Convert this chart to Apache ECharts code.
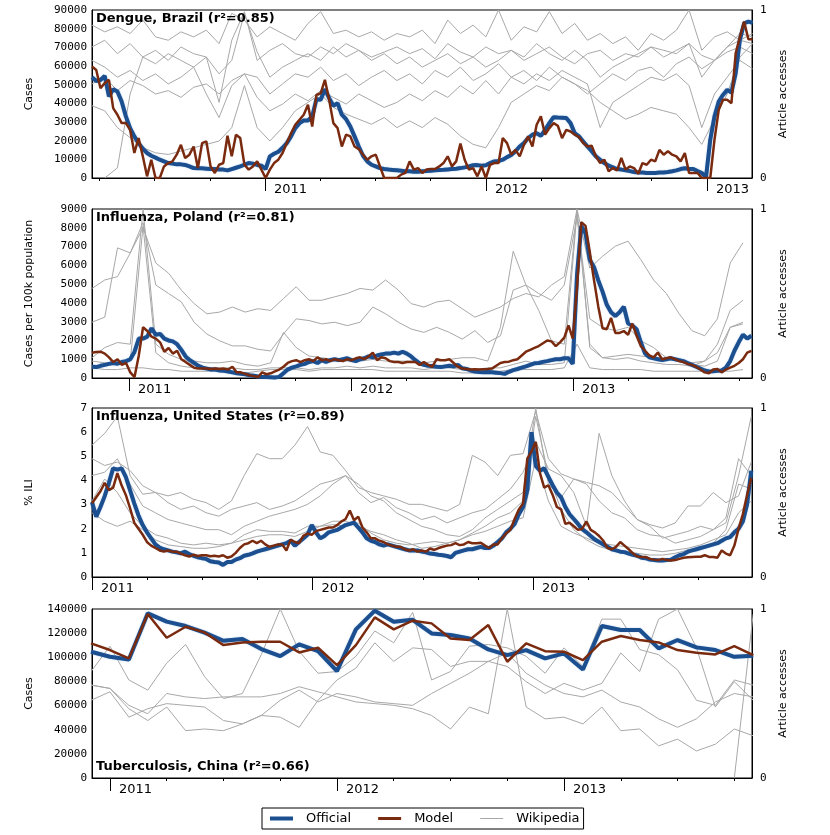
<!DOCTYPE html>
<html><head><meta charset="utf-8">
<script src="https://cdn.jsdelivr.net/npm/echarts@6/dist/echarts.min.js"></script>
<style>html,body{margin:0;padding:0;background:#fff}#c{width:830px;height:835px}</style>
</head><body><div id="c"></div>
<script>
// ---------- DATA ----------
const WEEK = 7 / 365.25, MONTH = 1 / 12;
const titles = ['Dengue, Brazil (r²=0.85)', 'Influenza, Poland (r²=0.81)', 'Influenza, United States (r²=0.89)', 'Tuberculosis, China (r²=0.66)'];
const yNames = ['Cases', 'Cases per 100k population', '% ILI', 'Cases'];
const yMax = [90000, 9000, 7, 140000];
const yInterval = [10000, 1000, 1, 20000];
const xMin = [2010.217, 2010.833, 2011.0, 2010.921];
const xMax = [2013.204, 2013.806, 2013.993, 2013.828];
const yearTicks = [2011, 2012, 2013];
const seriesStart = [2010.217, 2010.833, 2011.0, 2010.9167];
const officialStep = [WEEK, WEEK, WEEK, MONTH];
const wikiStep = [3 * WEEK, 3 * WEEK, 3 * WEEK, MONTH];

// Dengue, Brazil (weekly)
const p1Official = [54000,52000,52500,54700,43700,47600,46300,41000,33000,26700,
22300,18700,15700,13400,11900,10900,9800,8900,8000,7700,
7300,7300,7000,6200,5300,5200,5200,5000,4800,4800,
4600,4500,4100,4800,5500,6200,7100,8000,7700,7000,
6600,4800,11600,13000,14100,16200,18700,22300,26700,29400,
30800,30800,33000,42200,41900,47600,42800,38700,40100,33900,
31500,27600,22300,16900,11900,8900,7100,6200,5300,4800,
4500,4300,4100,3900,3600,3600,3400,3400,3600,3700,
3900,4100,4300,4400,4600,4800,5000,5300,5700,6200,
6800,6900,6600,6800,8000,8900,9100,9800,11200,12300,
14300,16900,18700,21400,23200,24000,22600,25800,29400,32600,
32400,32300,32100,29400,24000,22300,19600,16900,14300,11600,
9800,8000,6600,5700,4800,4500,4100,3700,3200,2900,
2900,2700,2700,2700,2900,3000,3200,3600,4100,4800,
5200,4800,4800,3700,2700,500,20500,33000,41000,44500,
47200,45800,56100,74000,82900,83800,83200];
const p1Model = [59700,57900,48100,50800,52600,37400,33900,29400,29400,25800,
13400,21400,11600,900,9800,0,0,6200,8000,8900,
12500,17800,10700,12500,16900,5300,18700,19600,6200,2700,
7100,8000,22600,11600,23200,21400,7100,4500,6200,8900,
4500,0,4500,8000,9800,13400,18700,24000,28500,31200,
33900,39200,27600,44500,45400,52600,41900,29400,26700,16900,
23200,22300,16900,15500,12500,9800,11600,12500,6200,0,
0,0,0,1800,2700,8900,4500,5300,2700,4500,
4800,4800,6200,8000,11600,6200,8900,18400,9800,4500,
5300,900,6200,0,7100,8000,8000,21400,18700,12500,
15100,11600,17800,22300,16900,28500,33000,23200,26700,29400,
28000,21400,25800,24900,23200,21900,18700,16900,17300,11600,
8000,9800,3600,5300,4100,10700,4500,6200,5300,2300,
8000,7100,9800,8900,15100,12500,14300,12500,11600,8900,
13400,2700,2700,2700,0,0,0,20500,36500,41900,
41900,40100,66800,75700,83800,74300,74300];
const p1Wiki = [
[0.91,0.87,0.9,0.86,0.94,0.84,0.82,0.87,0.84,0.88,0.8,0.98,0.94,0.84,0.9,0.86,0.82,0.92,0.99,0.86,0.88,0.84,0.87,0.82,0.86,0.84,0.88,0.8,0.94,0.86,0.91,0.84,1.0,0.82,0.9,0.87,0.99,0.86,0.92,0.82,0.86,0.8,0.84,0.76,0.86,0.82,0.88,1.0,0.76,0.84,0.87,0.82,0.86],
[0.78,0.82,0.74,0.8,0.72,0.76,0.7,0.78,0.74,0.72,0.45,0.82,0.99,0.7,0.76,0.8,0.74,0.72,0.78,0.74,0.8,0.76,0.72,0.75,0.78,0.74,0.77,0.71,0.8,0.75,0.72,0.78,0.74,0.76,0.7,0.74,0.78,0.72,0.68,0.74,0.76,0.7,0.74,0.72,0.78,0.76,0.74,0.8,0.73,0.7,0.78,0.82,0.8],
[0.7,0.66,0.6,0.64,0.58,0.62,0.56,0.6,0.66,0.5,0.36,0.55,0.62,0.6,0.5,0.56,0.62,0.6,0.66,0.58,0.62,0.55,0.6,0.64,0.58,0.62,0.56,0.64,0.6,0.66,0.58,0.62,0.68,0.6,0.64,0.58,0.66,0.6,0.56,0.5,0.56,0.62,0.58,0.64,0.66,0.6,0.68,0.72,0.65,0.7,0.75,0.78,0.74],
[0.56,0.6,0.52,0.58,0.55,0.5,0.52,0.48,0.54,0.56,0.5,0.58,0.62,0.48,0.4,0.44,0.5,0.46,0.52,0.48,0.44,0.5,0.46,0.42,0.45,0.5,0.46,0.52,0.48,0.55,0.5,0.58,0.5,0.6,0.56,0.62,0.58,0.64,0.6,0.56,0.3,0.45,0.5,0.55,0.6,0.58,0.62,0.55,0.3,0.5,0.6,0.7,0.65],
[0.43,0.4,0.3,0.24,0.18,0.15,0.14,0.16,0.18,0.2,0.22,0.3,0.55,0.3,0.22,0.3,0.4,0.45,0.5,0.42,0.38,0.35,0.32,0.36,0.3,0.34,0.3,0.36,0.32,0.25,0.2,0.18,0.3,0.45,0.5,0.55,0.52,0.6,0.56,0.52,0.45,0.4,0.35,0.38,0.42,0.4,0.38,0.3,0.2,0.35,0.5,0.72,0.8],
[null,0.0,0.06,0.5,0.72,0.68,0.74,0.7,0.66,0.72,0.62,0.7,0.98,0.75,0.6,0.66,0.7,0.74,0.7,0.78,0.72,0.76,0.7,0.74,0.68,0.72,0.66,0.7,0.74,0.68,0.72,0.66,0.7,0.76,0.72,0.8,0.74,0.7,0.76,0.7,0.6,0.66,0.7,0.74,0.78,0.72,0.76,0.8,0.6,0.7,0.78,0.86,0.84]
];

// Influenza, Poland (weekly)
const p2Official = [600,580,650,700,750,800,760,850,900,1000,
1400,2100,2100,2200,2650,2300,2350,2100,2000,1950,
1800,1500,1150,950,800,650,550,500,450,450,
400,380,350,300,250,220,200,150,120,80,
60,50,40,30,60,250,450,550,620,700,
750,850,900,800,950,850,950,1000,950,1000,
1050,950,900,1000,1050,1150,1100,1200,1250,1300,
1300,1350,1300,1400,1300,1150,950,780,700,650,
640,600,580,620,650,620,700,520,480,400,
350,320,300,320,300,280,260,220,330,420,
480,550,620,700,780,800,860,900,950,1000,
1000,1050,1050,750,5500,8100,7700,6300,5900,5200,
4600,3900,3500,3300,3500,3800,2900,2800,2600,1900,
1300,1100,1050,1000,950,1000,1050,1000,950,900,
800,700,600,500,400,350,360,380,400,550,
900,1450,1900,2300,2100,2250];
const p2Model = [1350,1380,1400,1300,1100,850,1000,700,800,300,
50,1200,2700,2500,2200,2100,1900,1400,1600,1300,
1450,1000,850,700,550,500,500,500,480,500,
480,500,450,600,300,300,220,150,100,50,
300,200,250,350,450,600,800,900,950,850,
950,1000,900,1100,950,1000,900,1000,950,900,
1000,950,1050,1100,1000,1150,1350,950,1100,1050,
900,850,850,800,850,850,850,700,850,700,
600,1000,950,950,1000,800,600,500,480,450,
460,450,470,480,500,650,800,850,870,950,
1000,1200,1400,1500,1600,1700,1850,2000,1950,1700,
1900,2150,2800,2100,4800,8300,8100,6700,5200,3800,
2650,2600,3200,2400,2400,2500,2300,2900,2250,1700,
1450,1200,1100,1350,1000,1050,1100,1000,900,850,
750,700,600,450,300,250,450,480,300,450,
550,650,800,1000,1350,1450];
const p2Wiki = [
[0.53,0.58,0.6,0.74,0.89,0.68,0.62,0.52,0.44,0.38,0.39,0.42,0.39,0.41,0.4,0.47,0.54,0.46,0.46,0.48,0.5,0.53,0.52,0.58,0.52,0.44,0.42,0.45,0.46,0.41,0.36,0.39,0.42,0.47,0.5,0.48,0.55,0.6,1.0,0.65,0.72,0.78,0.81,0.7,0.58,0.5,0.38,0.28,0.25,0.35,0.68,0.8],
[0.33,0.36,0.77,0.74,0.92,0.55,0.5,0.45,0.33,0.26,0.22,0.19,0.19,0.17,0.16,0.26,0.35,0.34,0.32,0.33,0.31,0.33,0.42,0.38,0.33,0.29,0.27,0.3,0.27,0.23,0.28,0.21,0.25,0.52,0.55,0.5,0.46,0.55,0.95,0.35,0.3,0.28,0.3,0.22,0.18,0.12,0.1,0.08,0.07,0.1,0.3,0.33],
[0.12,0.18,0.21,0.2,1.0,0.2,0.14,0.11,0.1,0.09,0.09,0.1,0.08,0.07,0.09,0.27,0.18,0.13,0.12,0.11,0.1,0.1,0.11,0.1,0.1,0.1,0.09,0.1,0.11,0.12,0.12,0.1,0.3,0.75,0.55,0.4,0.22,0.2,1.0,0.18,0.12,0.11,0.12,0.1,0.09,0.08,0.08,0.07,0.1,0.2,0.4,0.46],
[0.1,0.09,0.08,0.1,0.9,0.15,0.09,0.07,0.06,0.06,0.06,0.06,0.05,0.05,0.06,0.06,0.06,0.05,0.06,0.06,0.07,0.06,0.07,0.06,0.06,0.06,0.05,0.06,0.06,0.05,0.05,0.06,0.06,0.08,0.1,0.08,0.08,0.09,0.98,0.2,0.12,0.13,0.14,0.13,0.12,0.11,0.1,0.09,0.1,0.15,0.3,0.32],
[0.06,0.05,0.05,0.06,0.06,0.05,0.05,0.04,0.04,0.04,0.04,0.04,0.03,0.04,0.05,0.05,0.05,0.04,0.05,0.05,0.05,0.05,0.05,0.04,0.04,0.04,0.04,0.04,0.04,0.03,0.03,0.04,0.04,0.05,0.05,0.05,0.05,0.06,0.2,0.06,0.05,0.05,0.05,0.05,0.04,0.04,0.04,0.04,0.04,0.04,0.04,0.05]
];

// Influenza, United States (weekly % ILI)
const p3Official = [3.1,2.5,2.9,3.35,3.9,4.5,4.45,4.5,4.15,3.6,
3.05,2.55,2.15,1.85,1.6,1.35,1.22,1.15,1.1,1.05,
1.02,0.98,1.05,0.95,0.88,0.82,0.78,0.75,0.65,0.62,
0.6,0.5,0.62,0.62,0.72,0.78,0.88,0.92,0.98,1.05,
1.1,1.15,1.2,1.25,1.3,1.35,1.4,1.5,1.3,1.45,
1.6,1.75,2.15,1.85,1.6,1.7,1.85,1.9,1.95,2.05,
2.15,2.2,2.25,2.05,1.85,1.6,1.5,1.45,1.35,1.3,
1.35,1.3,1.25,1.2,1.15,1.1,1.1,1.1,1.05,1.02,
0.97,0.95,0.92,0.9,0.87,0.82,1.0,1.05,1.1,1.15,
1.15,1.2,1.25,1.2,1.2,1.3,1.45,1.6,1.85,2.0,
2.2,2.6,2.9,3.6,6.0,4.6,4.4,4.5,4.15,3.8,
3.5,3.3,2.9,2.6,2.4,2.2,1.98,1.85,1.7,1.55,
1.45,1.35,1.25,1.15,1.1,1.05,1.03,0.97,0.92,0.88,
0.8,0.78,0.72,0.7,0.68,0.68,0.7,0.72,0.82,0.9,
0.95,1.05,1.1,1.15,1.2,1.25,1.3,1.35,1.4,1.5,
1.6,1.65,1.85,2.0,2.3,3.0,4.4];
const p3Model = [3.05,3.3,3.55,3.9,3.6,3.7,4.3,3.8,3.4,2.85,
2.25,2.0,1.75,1.45,1.3,1.2,1.1,1.05,1.1,1.05,
1.05,0.97,0.9,0.85,0.92,0.87,0.9,0.9,0.86,0.88,
0.85,0.9,0.8,0.85,1.0,1.2,1.35,1.4,1.5,1.4,
1.5,1.35,1.25,1.3,1.35,1.35,1.1,1.55,1.45,1.4,
1.7,1.8,1.75,1.9,1.95,2.0,2.05,2.05,2.15,2.3,
2.4,2.75,2.35,2.5,2.05,1.85,1.6,1.6,1.5,1.45,
1.35,1.3,1.25,1.25,1.15,1.1,1.15,1.05,1.1,1.05,
1.18,1.12,1.2,1.25,1.3,1.32,1.4,1.32,1.35,1.45,
1.4,1.4,1.42,1.3,1.2,1.35,1.35,1.6,1.8,1.95,
2.4,2.8,3.05,4.9,5.2,5.6,4.3,3.7,3.8,3.4,
2.9,2.8,2.2,2.25,2.1,1.95,2.0,2.3,1.95,1.85,
1.7,1.5,1.2,1.15,1.25,1.45,1.3,1.15,0.98,0.85,
0.83,0.83,0.75,0.72,0.7,0.75,0.7,0.68,0.7,0.75,
0.8,0.82,0.83,0.84,0.84,0.9,0.83,0.83,0.8,1.1,
0.97,0.9,1.3,2.0,2.6,3.4,4.1];
const p3Wiki = [
[0.78,0.85,0.95,0.6,0.49,0.5,0.48,0.5,0.46,0.44,0.4,0.45,0.6,0.73,0.7,0.7,0.78,0.89,0.74,0.72,0.63,0.53,0.5,0.48,0.46,0.43,0.43,0.41,0.39,0.43,0.72,0.68,0.6,0.72,0.73,0.98,0.7,0.61,0.58,0.56,0.54,0.5,0.42,0.34,0.31,0.29,0.32,0.42,0.42,0.5,0.44,0.48,0.68],
[0.7,0.66,0.68,0.63,0.54,0.5,0.44,0.4,0.42,0.38,0.36,0.4,0.42,0.44,0.4,0.42,0.45,0.5,0.55,0.57,0.6,0.5,0.44,0.47,0.41,0.38,0.34,0.36,0.32,0.35,0.38,0.4,0.46,0.52,0.62,0.8,0.64,0.6,0.5,0.3,0.85,0.6,0.45,0.34,0.3,0.23,0.25,0.27,0.3,0.28,0.35,0.7,0.6],
[0.6,0.62,0.7,0.55,0.42,0.38,0.34,0.32,0.3,0.28,0.28,0.25,0.3,0.33,0.36,0.38,0.4,0.43,0.48,0.55,0.6,0.55,0.48,0.45,0.38,0.34,0.3,0.28,0.25,0.24,0.28,0.35,0.4,0.45,0.5,1.0,0.55,0.47,0.58,0.55,0.45,0.38,0.35,0.28,0.25,0.24,0.2,0.22,0.24,0.28,0.32,0.6,0.95],
[0.45,0.58,0.5,0.38,0.3,0.25,0.23,0.2,0.19,0.2,0.19,0.2,0.25,0.28,0.27,0.27,0.26,0.3,0.3,0.33,0.33,0.3,0.27,0.25,0.22,0.2,0.17,0.18,0.2,0.22,0.26,0.3,0.35,0.38,0.45,0.95,0.6,0.4,0.28,0.22,0.18,0.16,0.15,0.14,0.13,0.13,0.14,0.16,0.17,0.2,0.28,0.55,0.52],
[0.38,0.33,0.3,0.33,0.28,0.22,0.19,0.18,0.17,0.17,0.18,0.2,0.22,0.24,0.25,0.25,0.24,0.27,0.3,0.31,0.3,0.32,0.26,0.22,0.2,0.19,0.2,0.21,0.2,0.22,0.25,0.27,0.3,0.33,0.35,0.7,0.45,0.3,0.26,0.23,0.2,0.19,0.18,0.17,0.16,0.15,0.16,0.17,0.19,0.22,0.25,0.38,0.45]
];

// Tuberculosis, China (monthly, Dec 2010 - Nov 2013)
const p4Official = [104600,100400,98200,136400,129500,125900,120400,113700,115100,106800,101000,110700,105100,88500,123100,138600,129500,131000,119800,118400,115600,106500,101800,105900,99100,103200,89900,125900,122600,122600,107400,114300,108200,106000,100400,101300];
const p4Model = [111500,106000,99100,135900,116200,125300,120600,110100,112300,112900,112900,104000,107900,93500,110100,133100,123100,130300,128100,115600,114300,126700,96300,111500,105100,104600,97700,112900,117600,114300,112300,106000,103800,102400,109300,101800];
const p4Wiki = [
[0.63,0.78,0.58,0.52,0.68,0.79,0.6,0.47,0.5,0.73,1.0,0.75,0.62,0.63,0.72,0.87,0.8,0.98,0.58,0.63,0.78,0.79,0.77,0.72,0.62,0.77,0.66,0.94,0.94,0.76,0.73,0.64,0.46,0.43,0.58,0.55],
[0.55,0.53,0.41,0.34,0.42,0.28,0.29,0.28,0.32,0.37,0.36,0.3,0.46,0.58,0.65,0.8,0.69,0.77,0.76,0.66,0.69,0.69,0.66,0.57,0.5,0.56,0.52,0.56,0.74,0.63,0.94,1.0,0.77,0.42,0.57,0.46],
[0.46,0.51,0.36,0.41,0.44,0.43,0.42,0.34,0.32,0.37,0.46,0.52,0.45,0.5,0.48,0.45,0.44,0.43,0.5,0.56,0.62,0.69,0.74,0.62,0.55,0.5,0.48,0.52,0.45,0.42,0.35,0.3,0.35,0.45,0.5,0.48],
[0.55,0.53,0.43,0.38,0.5,0.48,0.47,0.48,0.48,0.48,0.5,0.54,0.51,0.48,0.45,0.44,0.43,0.41,0.37,0.29,0.42,0.38,1.0,0.42,0.35,0.36,0.32,0.42,0.28,0.29,0.19,0.23,0.16,0.2,0.29,0.25],
[null,null,null,null,null,null,null,null,null,null,null,null,null,null,null,null,null,null,null,null,null,null,null,null,null,null,null,null,null,null,null,null,null,null,0.0,0.97]
];

const officialData = [p1Official, p2Official, p3Official, p4Official];
const modelData = [p1Model, p2Model, p3Model, p4Model];
const wikiData = [p1Wiki, p2Wiki, p3Wiki, p4Wiki];

// ---------- CHART ----------
const COL_OFF = '#1b4f8f', COL_MOD = '#7a2a0f', COL_WIKI = '#a8a8a8';
const FONT = 'DejaVu Sans', MONO = 'DejaVu Sans Mono';
const tops = [10, 209, 408, 609], heights = [168, 169, 169, 169];
const titleTops = [12, 211, 410, 760];

function toXY(start, step, vals) { return vals.map((v, i) => [start + i * step, v]); }

const grid = [], xAxis = [], yAxis = [], series = [], title = [];
for (let p = 0; p < 4; p++) {
  grid.push({ left: 92, top: tops[p], width: 660, height: heights[p], show: true, borderColor: '#000', borderWidth: 1 });
  const quarters = [];
  for (let q = Math.ceil(xMin[p] * 4); q <= Math.floor(xMax[p] * 4); q++) quarters.push(q / 4);
  xAxis.push({ gridIndex: p, type: 'value', position: 'bottom', min: xMin[p], max: xMax[p],
    axisLine: { show: true, onZero: false, lineStyle: { color: '#000', width: 1 } },
    axisTick: { show: true, customValues: quarters, length: 3, lineStyle: { color: '#000' } },
    axisLabel: { show: false }, splitLine: { show: false } });
  xAxis.push({ gridIndex: p, type: 'value', position: 'bottom', offset: 0, min: xMin[p], max: xMax[p],
    axisLine: { show: false, onZero: false },
    axisTick: { show: true, customValues: yearTicks, length: 13, lineStyle: { color: '#000' } },
    axisLabel: { show: true, customValues: yearTicks, formatter: v => String(Math.round(v)), align: 'left',
      padding: [0, 0, 0, 9], margin: 5, fontFamily: FONT, fontSize: 13, color: '#000' },
    splitLine: { show: false } });
  yAxis.push({ gridIndex: p, type: 'value', position: 'left', min: 0, max: yMax[p], interval: yInterval[p],
    axisLine: { show: true, lineStyle: { color: '#000' } }, axisTick: { show: false },
    axisLabel: { fontFamily: MONO, fontSize: 11, color: '#000', margin: 5, formatter: v => String(v) },
    splitLine: { show: false },
    name: yNames[p], nameLocation: 'middle', nameGap: 57,
    nameTextStyle: { fontFamily: FONT, fontSize: 11, color: '#000' } });
  yAxis.push({ gridIndex: p, type: 'value', position: 'right', min: 0, max: 1, interval: 1,
    axisLine: { show: true, lineStyle: { color: '#000' } }, axisTick: { show: false },
    axisLabel: { fontFamily: MONO, fontSize: 11, color: '#000', margin: 8 },
    splitLine: { show: false },
    name: 'Article accesses', nameLocation: 'middle', nameGap: 20,
    nameTextStyle: { fontFamily: FONT, fontSize: 11, color: '#000' } });
  title.push({ text: titles[p], left: 96, top: titleTops[p], padding: 0,
    textStyle: { fontFamily: FONT, fontWeight: 'bold', fontSize: 13, color: '#000' } });

  wikiData[p].forEach(arr => series.push({ name: 'Wikipedia', type: 'line', xAxisIndex: 2 * p, yAxisIndex: 2 * p + 1,
    data: toXY(seriesStart[p], wikiStep[p], arr), symbol: 'none', clip: true,
    lineStyle: { color: COL_WIKI, width: 1 }, itemStyle: { color: COL_WIKI }, silent: true }));
  series.push({ name: 'Official', type: 'line', xAxisIndex: 2 * p, yAxisIndex: 2 * p,
    data: toXY(seriesStart[p], officialStep[p], officialData[p]), symbol: 'none', clip: true,
    lineStyle: { color: COL_OFF, width: 4, shadowColor: 'rgba(80,140,210,0.5)', shadowBlur: 1.5 },
    itemStyle: { color: COL_OFF } });
  series.push({ name: 'Model', type: 'line', xAxisIndex: 2 * p, yAxisIndex: 2 * p,
    data: toXY(seriesStart[p], officialStep[p], modelData[p]), symbol: 'none', clip: true,
    lineStyle: { color: COL_MOD, width: 2.5 }, itemStyle: { color: COL_MOD } });
}

const chart = echarts.init(document.getElementById('c'), null, { renderer: 'canvas' });
chart.setOption({
  animation: false,
  backgroundColor: '#fff',
  title, grid, xAxis, yAxis, series,
  legend: {
    data: [
      { name: 'Official', icon: 'path://M0,0H23V4H0Z', itemStyle: { color: COL_OFF } },
      { name: 'Model', icon: 'path://M0,0H23V3H0Z', itemStyle: { color: COL_MOD } },
      { name: 'Wikipedia', icon: 'path://M0,0H23V1H0Z', itemStyle: { color: COL_WIKI } }
    ],
    left: 262, top: 808, orient: 'horizontal',
    borderColor: '#000', borderWidth: 1, padding: [4, 4, 4, 8], itemGap: 27, itemWidth: 23, itemHeight: 14,
    textStyle: { fontFamily: FONT, fontSize: 13, color: '#000', padding: [0, 0, 0, 8] } }
});
</script></body></html>
